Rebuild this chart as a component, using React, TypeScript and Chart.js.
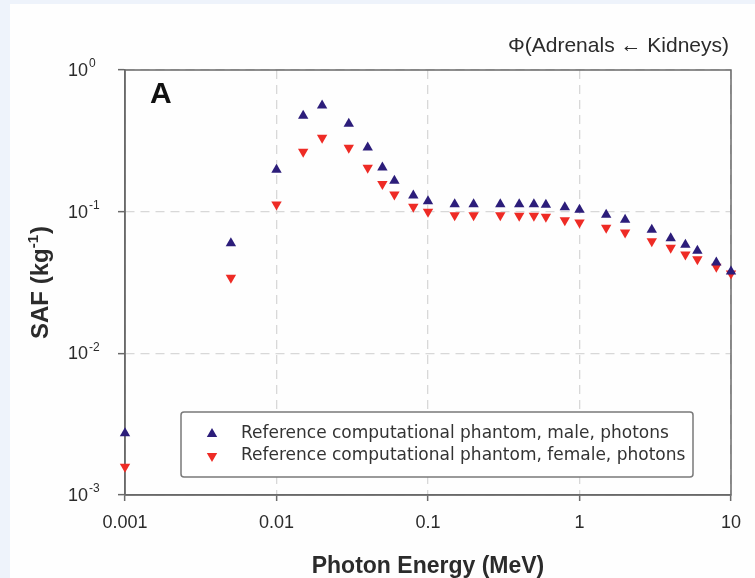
import React, { useEffect, useRef } from 'react';
import { Chart, registerables } from 'chart.js';

Chart.register(...registerables);

// ---- data ----
const energies = [0.001, 0.005, 0.01, 0.015, 0.02, 0.03, 0.04, 0.05, 0.06, 0.08, 0.1, 0.15, 0.2, 0.3, 0.4, 0.5, 0.6, 0.8, 1, 1.5, 2, 3, 4, 5, 6, 8, 10];
const maleSAF = [0.00273, 0.0599, 0.1975, 0.475, 0.562, 0.417, 0.284, 0.205, 0.165, 0.13, 0.1186, 0.113, 0.113, 0.113, 0.113, 0.113, 0.1118, 0.1075, 0.1031, 0.0951, 0.0876, 0.0745, 0.065, 0.0584, 0.0529, 0.0438, 0.0378];
const femaleSAF = [0.00158, 0.0341, 0.1123, 0.265, 0.332, 0.2823, 0.204, 0.157, 0.132, 0.1082, 0.0998, 0.0944, 0.0944, 0.0944, 0.0935, 0.0935, 0.092, 0.0871, 0.0838, 0.0769, 0.0713, 0.0619, 0.0556, 0.0499, 0.0462, 0.0408, 0.0366];
const seriesLabels = ['Reference computational phantom, male, photons', 'Reference computational phantom, female, photons'];
const xTickValues = [0.001, 0.01, 0.1, 1, 10];
const yTickValues = [0.001, 0.01, 0.1, 1];
const yTickExponents = ['-3', '-2', '-1', '0'];
const chartTitle = 'Φ(Adrenals ← Kidneys)';
const panelLabel = 'A';
const xTitle = 'Photon Energy (MeV)';
const yTitleMain = 'SAF (kg';
const yTitleSup = '-1';
const yTitleEnd = ')';

const MALE_COLOR = '#2c1d7a';
const FEMALE_COLOR = '#ee2b25';
const AXIS_COLOR = '#6a6a6a';
const TEXT_COLOR = '#2b2b2b';

function triangle(ctx: CanvasRenderingContext2D, x: number, y: number, r: number, down: boolean, color: string) {
  ctx.save();
  ctx.fillStyle = color;
  ctx.beginPath();
  const s = down ? -1 : 1;
  ctx.moveTo(x, y - s * r);
  ctx.lineTo(x + r * Math.sqrt(3) / 2, y + s * r / 2);
  ctx.lineTo(x - r * Math.sqrt(3) / 2, y + s * r / 2);
  ctx.closePath();
  ctx.fill();
  ctx.restore();
}

const decorPlugin = {
  id: 'decor',
  beforeDraw(chart: any) {
    const ctx = chart.ctx;
    ctx.save();
    ctx.fillStyle = '#eef3fb';
    ctx.fillRect(0, 0, chart.width, chart.height);
    ctx.fillStyle = '#fefefe';
    ctx.fillRect(10, 4, chart.width - 10, chart.height - 4);
    ctx.restore();
  },
  beforeDatasetsDraw(chart: any) {
    const ctx = chart.ctx;
    const a = chart.chartArea;
    ctx.save();
    ctx.strokeStyle = AXIS_COLOR;
    ctx.lineWidth = 1.5;
    ctx.strokeRect(a.left, a.top, a.right - a.left, a.bottom - a.top);
    ctx.restore();
  },
  afterDraw(chart: any) {
    const ctx = chart.ctx;
    const a = chart.chartArea;
    const yScale = chart.scales.y;
    ctx.save();
    // y tick labels with superscripts
    ctx.fillStyle = TEXT_COLOR;
    yTickValues.forEach((v, i) => {
      const py = yScale.getPixelForValue(v);
      ctx.font = '18px "Liberation Sans", Arial, sans-serif';
      ctx.textAlign = 'left';
      ctx.textBaseline = 'middle';
      ctx.fillText('10', 68, py + 1);
      const w = ctx.measureText('10').width;
      ctx.font = '12px "Liberation Sans", Arial, sans-serif';
      ctx.fillText(yTickExponents[i], 68 + w + 1, py - 6);
    });
    // y title
    ctx.save();
    ctx.translate(48, (a.top + a.bottom) / 2);
    ctx.rotate(-Math.PI / 2);
    const fMain = 'bold 24px "Liberation Sans", Arial, sans-serif';
    const fSup = 'bold 15px "Liberation Sans", Arial, sans-serif';
    ctx.font = fMain;
    const w1 = ctx.measureText(yTitleMain).width;
    const w3 = ctx.measureText(yTitleEnd).width;
    ctx.font = fSup;
    const w2 = ctx.measureText(yTitleSup).width;
    const total = w1 + w2 + w3 + 1;
    let x0 = -total / 2;
    ctx.textAlign = 'left';
    ctx.textBaseline = 'alphabetic';
    ctx.fillStyle = TEXT_COLOR;
    ctx.font = fMain;
    ctx.fillText(yTitleMain, x0, 0);
    x0 += w1;
    ctx.font = fSup;
    ctx.fillText(yTitleSup, x0, -10);
    x0 += w2 + 1;
    ctx.font = fMain;
    ctx.fillText(yTitleEnd, x0, 0);
    ctx.restore();
    // top-right title
    ctx.font = '21px "Liberation Sans", Arial, sans-serif';
    ctx.textAlign = 'right';
    ctx.textBaseline = 'middle';
    ctx.fillStyle = TEXT_COLOR;
    ctx.fillText(chartTitle, 729, 46);
    // panel label
    ctx.font = 'bold 30px "Liberation Sans", Arial, sans-serif';
    ctx.textAlign = 'left';
    ctx.fillStyle = '#111';
    ctx.fillText(panelLabel, 150, 95);
    // legend
    const lx = 181, ly = 412, lw = 512, lh = 65;
    ctx.fillStyle = '#ffffff';
    ctx.strokeStyle = '#7a7a7a';
    ctx.lineWidth = 1.5;
    ctx.beginPath();
    ctx.roundRect(lx, ly, lw, lh, 3);
    ctx.fill();
    ctx.stroke();
    const colors = [MALE_COLOR, FEMALE_COLOR];
    const rows = [434, 456];
    ctx.font = '17px "DejaVu Sans", sans-serif';
    ctx.textAlign = 'left';
    ctx.textBaseline = 'middle';
    chart.data.datasets.forEach((ds: any, i: number) => {
      triangle(ctx, 212, rows[i], 6, i === 1, colors[i]);
      ctx.fillStyle = '#333';
      ctx.fillText(ds.label, 241, rows[i]);
    });
    ctx.restore();
  },
};

export default function App() {
  const ref = useRef<HTMLCanvasElement | null>(null);
  useEffect(() => {
    if (!ref.current) return;
    const chart = new Chart(ref.current, {
      type: 'scatter',
      data: {
        datasets: [
          {
            label: seriesLabels[0],
            data: energies.map((e, i) => ({ x: e, y: maleSAF[i] })),
            pointStyle: 'triangle',
            pointRadius: 6,
            pointBackgroundColor: MALE_COLOR,
            pointBorderColor: MALE_COLOR,
            pointBorderWidth: 0,
            showLine: false,
            clip: false,
          },
          {
            label: seriesLabels[1],
            data: energies.map((e, i) => ({ x: e, y: femaleSAF[i] })),
            pointStyle: 'triangle',
            rotation: 180,
            pointRotation: 180,
            pointRadius: 6,
            pointBackgroundColor: FEMALE_COLOR,
            pointBorderColor: FEMALE_COLOR,
            pointBorderWidth: 0,
            showLine: false,
            clip: false,
          },
        ],
      },
      options: {
        responsive: false,
        animation: false,
        devicePixelRatio: 1,
        layout: { padding: { left: 0, top: 70, right: 24, bottom: 0 } },
        plugins: {
          legend: { display: false },
          tooltip: { enabled: false },
          title: { display: false },
        },
        scales: {
          x: {
            type: 'logarithmic',
            min: 0.001,
            max: 10,
            afterBuildTicks: (s: any) => { s.ticks = xTickValues.map((v) => ({ value: v })); },
            afterFit: (s: any) => { s.height = 83; },
            ticks: {
              autoSkip: false,
              maxRotation: 0,
              padding: 11,
              color: TEXT_COLOR,
              font: { family: '"Liberation Sans", Arial, sans-serif', size: 18 },
              callback: (v: any) => String(v),
            },
            grid: {
              color: '#d8d8d8',
              lineWidth: 1.3,
              tickLength: 6,
              tickColor: AXIS_COLOR,
              tickWidth: 1.5,
            },
            border: { display: true, color: AXIS_COLOR, width: 1.5, dash: [9, 6] },
            title: {
              display: true,
              text: xTitle,
              color: TEXT_COLOR,
              font: { family: '"Liberation Sans", Arial, sans-serif', size: 23, weight: 'bold', lineHeight: 1 },
              padding: { top: 0, bottom: 0 },
            },
          },
          y: {
            type: 'logarithmic',
            min: 0.001,
            max: 1,
            afterBuildTicks: (s: any) => { s.ticks = yTickValues.map((v) => ({ value: v })); },
            afterFit: (s: any) => { s.width = 125; },
            ticks: {
              autoSkip: false,
              color: 'rgba(0,0,0,0)',
              callback: () => '',
            },
            grid: {
              color: '#d8d8d8',
              lineWidth: 1.3,
              tickLength: 7,
              tickColor: AXIS_COLOR,
              tickWidth: 1.5,
            },
            border: { display: true, color: AXIS_COLOR, width: 1.5, dash: [9, 6] },
          },
        },
      } as any,
      plugins: [decorPlugin],
    });
    return () => chart.destroy();
  }, []);
  return (
    <div style={{ position: 'fixed', left: 0, top: 0, width: 755, height: 578 }}>
      <canvas ref={ref} width={755} height={578} style={{ display: 'block' }} />
    </div>
  );
}
